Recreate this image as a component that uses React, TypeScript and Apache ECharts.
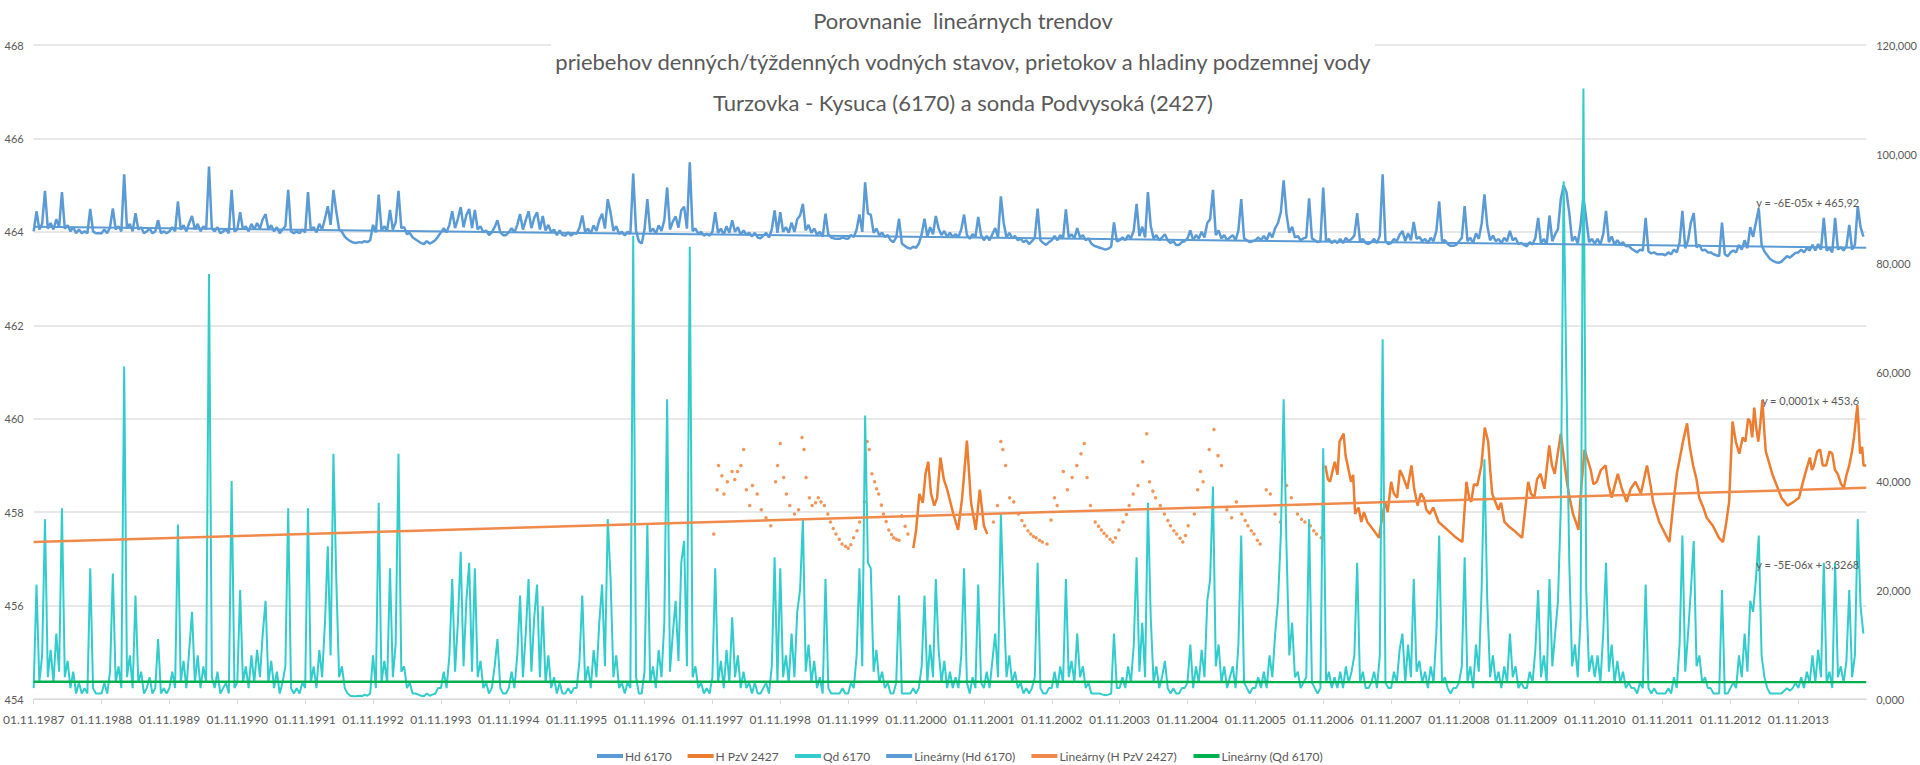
import React, { useEffect, useRef } from 'react';
import * as echarts from 'echarts';

// x = years elapsed since 01.11.1987; hd/qd sampled every half month (1/24 year)
const SLOTS_PER_YEAR = 24;

const xYearLabels = [1987, 1988, 1989, 1990, 1991, 1992, 1993, 1994, 1995, 1996, 1997, 1998, 1999, 2000,
  2001, 2002, 2003, 2004, 2005, 2006, 2007, 2008, 2009, 2010, 2011, 2012, 2013];

// Hd 6170 (m n.m.) – one row per hydrological year
const hdValues = [
  464.01,464.44,464.05,464.17,464.88,464.07,464.19,464.05,464.27,464.1,464.85,464.07,464.14,464.01,464.1,463.97,464.05,463.97,464.01,463.97,464.49,464.01,463.97,463.97,
  463.97,464.05,463.97,464.1,464.5,464.05,464.12,464.01,465.23,464.07,464.17,464.01,464.4,464.05,464.1,463.97,464.01,464.07,463.97,464.01,464.25,463.97,464.01,463.97,
  464.01,464.1,464.01,464.65,464.05,464.14,464.01,464.19,464.34,464.05,464.17,464.01,464.12,464.05,465.4,464.07,464.01,464.1,463.97,464.01,464.05,463.97,464.9,464.01,
  464.05,464.42,464.05,464.12,464.01,464.17,464.05,464.19,464.07,464.27,464.38,464.05,464.14,464.01,464.1,463.97,464.05,464.12,464.9,464.01,463.97,464.01,463.97,464.05,
  463.99,464.85,464.03,464.1,463.99,464.17,464.05,464.28,464.55,464.15,464.9,464.44,464.05,464.0,463.9,463.84,463.8,463.77,463.76,463.78,463.77,463.8,463.78,463.82,
  464.15,463.99,464.8,464.03,464.12,464.03,464.47,464.05,464.2,464.88,464.08,464.1,463.95,463.98,463.88,463.84,463.8,463.76,463.74,463.8,463.75,463.78,463.82,463.9,
  463.99,464.08,463.99,464.15,464.44,464.08,464.28,464.53,464.1,464.36,464.49,464.08,464.47,464.05,464.12,463.99,464.03,463.93,463.99,464.1,464.25,463.99,463.93,463.93,
  463.99,464.08,463.99,464.15,464.38,464.05,464.25,464.44,464.08,464.3,464.42,464.05,464.34,464.03,464.15,463.99,464.05,463.93,464.03,463.93,463.92,463.99,463.92,463.97,
  463.96,464.09,464.35,464.0,464.07,463.96,464.14,464.02,464.25,464.39,464.07,464.7,464.41,464.02,464.12,463.96,464.0,463.92,464.0,463.96,465.25,464.02,463.8,463.75,
  464.05,464.7,464.0,464.07,463.96,464.14,464.02,464.25,464.95,464.05,464.22,464.33,464.09,464.46,464.54,464.07,465.49,464.02,464.07,463.96,464.0,463.92,463.96,463.92,
  464.0,464.42,463.98,464.07,463.94,464.12,463.98,464.25,464.0,464.1,463.94,464.03,463.94,463.98,463.9,463.98,463.88,463.86,463.92,463.98,463.88,464.05,464.46,463.98,
  464.42,464.0,464.1,463.98,464.2,464.0,464.27,464.35,464.6,464.03,464.15,463.98,464.07,463.94,464.0,463.9,464.39,463.94,463.88,463.86,463.85,463.85,463.88,463.86,
  463.85,463.93,463.89,464.05,464.37,464.0,465.06,464.39,464.37,463.98,464.07,463.93,463.98,463.89,463.93,463.82,463.78,463.88,464.28,463.75,463.7,463.66,463.64,463.68,
  463.66,463.75,463.95,464.28,463.9,464.1,463.95,464.34,464.07,463.93,464.02,463.89,463.98,463.89,463.95,463.89,464.05,464.37,463.93,463.85,463.95,463.89,464.32,463.93,
  463.82,463.91,463.82,463.95,464.08,463.88,464.76,464.19,463.88,463.98,463.86,463.91,463.82,463.86,463.78,463.82,463.74,463.8,463.88,464.5,463.82,463.76,463.72,463.78,
  463.82,463.91,463.82,463.93,463.86,464.48,463.88,463.95,463.86,464.08,463.88,463.93,463.82,463.86,463.75,463.7,463.68,463.66,463.64,463.62,463.64,463.68,464.2,463.8,
  463.82,463.88,463.82,463.93,463.86,464.03,464.6,463.91,464.11,463.88,464.85,464.13,463.86,463.93,463.82,463.88,463.95,463.82,463.76,463.8,463.72,463.72,463.78,463.8,
  463.86,464.03,463.82,463.93,463.86,464.0,463.88,464.19,464.27,464.9,463.93,464.03,463.86,463.93,463.82,463.88,463.93,463.82,464.03,464.7,463.86,463.82,463.78,463.8,
  463.82,463.88,463.82,463.91,463.82,463.98,463.88,464.08,464.19,464.42,465.1,464.38,463.98,464.11,463.88,463.91,463.82,463.86,463.88,464.72,463.86,463.82,463.78,463.8,
  464.95,463.8,463.85,463.76,463.82,463.76,463.85,463.76,463.87,463.8,463.85,463.92,464.4,463.8,463.85,463.76,463.74,463.78,463.85,463.76,463.92,465.23,463.8,463.74,
  463.76,463.85,463.8,463.94,464.02,463.8,463.97,463.82,464.21,463.85,463.89,463.8,463.85,463.76,463.87,463.8,464.02,464.65,463.8,463.82,463.74,463.7,463.7,463.72,
  463.8,463.87,464.55,463.8,463.87,463.76,463.97,463.85,464.17,464.8,464.13,463.82,463.92,463.8,463.85,463.76,463.87,463.8,464.02,463.82,463.87,463.74,463.76,463.72,
  463.69,463.78,463.73,463.87,464.3,463.75,463.85,463.73,464.35,463.8,463.95,464.06,464.7,465.0,464.85,464.4,463.8,463.9,463.75,464.15,464.75,464.28,463.78,463.85,
  463.75,463.85,463.73,463.95,464.45,463.78,463.9,463.73,463.82,463.73,463.78,463.69,463.7,463.64,463.6,463.56,463.62,463.6,464.3,463.58,463.54,463.56,463.52,463.52,
  463.52,463.5,463.56,463.52,463.62,463.56,463.77,464.45,463.65,463.82,464.2,464.4,463.67,463.72,463.6,463.62,463.56,463.56,463.52,463.5,463.48,464.2,463.52,463.48,
  463.56,463.6,463.56,463.72,463.62,463.82,463.65,464.1,463.89,464.2,464.5,463.72,463.58,463.5,463.42,463.38,463.35,463.34,463.36,463.42,463.48,463.45,463.5,463.55,
  463.56,463.62,463.56,463.65,463.6,463.72,463.6,463.74,463.62,464.3,463.6,463.65,463.56,464.3,463.62,463.67,463.6,463.69,464.15,463.62,463.72,464.55,464.1,463.9,
];

// Qd 6170 (m3/s) – one row per hydrological year
const qdValues = [
  2,21,3,8,33,4,9,3,12,5,35,4,7,2,5,1,3,1,2,1,24,2,1,1,
  1,3,1,5,23,3,6,2,61,4,8,2,19,3,5,1,2,4,1,2,11,1,2,1,
  2,5,2,32,3,7,2,9,16,3,8,2,6,3,78,4,2,5,1,2,3,1,40,2,
  3,20,3,6,2,8,3,9,4,12,18,3,7,2,5,1,3,6,35,2,1,2,1,3,
  2,35,3,6,2,9,4,14,28,8,45,22,4,6,2,1,0.6,0.5,0.5,0.6,0.5,0.8,0.6,1,
  8,2,36,3,7,3,24,4,10,45,5,6,2,3,1,1,0.8,0.6,0.5,1,0.6,0.8,1,2,
  2,5,2,8,22,5,14,27,6,18,25,5,24,4,7,2,3,1,2,6,11,2,1,1,
  2,5,2,8,19,4,12,22,5,15,21,4,17,3,8,2,4,1,3,1,1,2,1,2,
  2,7,19,3,6,2,9,4,14,21,6,33,22,4,8,2,3,1,3,2,85,4,1,1,
  5,32,3,6,2,9,4,14,55,5,12,18,7,25,29,6,83,4,6,2,3,1,2,1,
  4,24,3,7,2,9,3,15,4,8,2,5,2,3,1,3,1,1,2,3,1,6,26,3,
  24,4,8,3,12,4,16,20,33,5,10,3,7,2,4,1,22,2,1,1,1,1,2,1,
  1,3,2,8,24,6,52,25,24,5,9,3,5,2,3,1,1,3,19,1,1,1,1,2,
  1,2,6,19,3,10,4,22,9,3,7,2,5,2,4,2,8,24,3,1,4,2,21,3,
  2,5,2,7,12,4,34,18,4,8,3,5,2,3,1,2,1,2,4,25,2,1,1,2,
  2,5,2,6,3,22,4,7,3,12,4,6,2,3,1,1,1,1,0.8,0.7,0.8,1,12,2,
  2,4,2,6,3,10,26,5,14,4,36,15,3,6,2,4,7,2,1,2,1,1,2,2,
  3,10,2,6,3,9,4,18,22,39,6,10,3,6,2,4,6,2,10,30,3,2,1,2,
  2,4,2,5,2,8,4,12,18,30,55,28,8,14,4,5,2,3,4,33,3,2,1,2,
  46,3,5,2,4,2,5,2,6,3,5,8,25,3,5,2,2,3,5,2,8,66,3,2,
  2,5,3,9,12,3,10,4,22,5,7,3,5,2,6,3,12,30,3,4,2,1,2,2,
  3,6,26,3,6,2,10,5,20,44,18,4,8,3,5,2,6,3,12,4,6,2,3,2,
  2,5,3,9,20,4,8,3,22,6,12,18,35,95,58,25,6,10,4,15,112,20,5,8,
  4,8,3,12,25,5,10,3,7,3,5,2,3,2,2,1,3,2,21,2,1,2,1,1,
  1,1,2,1,4,2,10,30,5,12,20,29,6,8,3,4,2,2,1,1,1,20,1,1,
  2,3,2,8,4,12,5,18,16,22,30,8,4,2,1,1,1,1,1,1.5,2,1.5,2,3,
  2,4,2,5,3,8,3,9,4,25,3,5,2,25,4,6,3,7,20,4,8,33,17,12,
];

// H PzV 2427 – weekly readings shown as dots
const pzvDots: [number, number][] = [
  [10.02,457.53],[10.07,458.48],[10.09,459.0],[10.14,458.78],[10.17,458.39],[10.22,458.65],[10.29,458.87],[10.33,458.7],[10.37,458.87],[10.42,459.0],[10.46,459.34],[10.5,458.48],[10.55,458.14],[10.59,458.57],[10.66,458.39],[10.72,458.05],[10.79,457.88],[10.86,457.71],[10.93,458.65],[10.96,459.0],
  [11.0,459.47],[11.05,458.74],[11.09,458.39],[11.14,458.14],[11.21,457.96],[11.27,458.05],[11.32,459.6],[11.35,459.34],[11.38,458.74],[11.43,458.31],[11.47,458.14],[11.52,458.2],[11.56,458.31],[11.6,458.22],[11.65,458.14],[11.7,457.96],[11.74,457.79],[11.78,457.65],[11.82,457.53],[11.87,457.42],[11.91,457.32],[11.96,457.27],
  [12.0,457.23],[12.04,457.3],[12.08,457.45],[12.13,457.6],[12.17,457.79],[12.24,458.22],[12.28,459.51],[12.31,459.34],[12.35,458.82],[12.39,458.65],[12.42,458.5],[12.45,458.39],[12.49,458.15],[12.52,457.96],[12.56,457.8],[12.6,457.62],[12.64,457.52],[12.67,457.45],[12.71,457.42],[12.75,457.4],[12.79,457.92],[12.84,457.7],[12.88,457.53],
  [14.14,457.79],[14.2,458.14],[14.25,459.51],[14.28,459.34],[14.32,459.0],[14.38,458.31],[14.44,458.22],[14.51,457.96],[14.56,457.82],[14.6,457.71],[14.65,457.6],[14.69,457.53],[14.73,457.48],[14.77,457.45],[14.82,457.4],[14.86,457.36],[14.93,457.32],[14.99,457.83],
  [15.04,458.31],[15.08,458.14],[15.17,458.87],[15.23,458.48],[15.3,458.74],[15.37,459.0],[15.43,459.25],[15.48,459.47],[15.52,458.74],[15.57,458.14],[15.64,457.79],[15.69,457.7],[15.73,457.62],[15.77,457.55],[15.81,457.49],[15.86,457.42],[15.9,457.36],[15.94,457.45],[15.99,457.62],
  [16.05,457.79],[16.1,457.95],[16.14,458.14],[16.2,458.39],[16.27,458.57],[16.34,459.08],[16.4,459.68],[16.44,458.65],[16.49,458.45],[16.53,458.31],[16.6,458.14],[16.66,457.96],[16.71,457.82],[16.75,457.71],[16.8,457.6],[16.84,457.53],[16.89,457.44],[16.93,457.36],[16.97,457.5],
  [17.01,457.71],[17.1,457.96],[17.15,458.48],[17.19,458.87],[17.23,458.65],[17.32,459.34],[17.39,459.77],[17.45,459.21],[17.5,459.0],[17.58,458.05],[17.65,457.88],[17.72,458.22],[17.8,457.96],[17.85,457.82],[17.89,457.71],[17.94,457.6],[17.98,457.53],[18.03,457.4],[18.07,457.32],
  [18.16,458.48],[18.22,458.39],[18.29,457.96],[18.37,457.79],[18.46,458.57],[18.53,458.31],[18.62,457.96],[18.68,457.85],[18.73,457.79],[18.81,457.71],[18.86,457.6],[18.9,457.53],[18.97,457.45],
];

// H PzV 2427 – continuous records (line)
const pzvLineA: [number, number][] = [
  [12.96,457.23],[13.0,457.6],[13.05,458.39],[13.1,458.2],[13.14,458.82],[13.18,459.08],[13.22,458.4],[13.27,458.14],[13.31,458.3],[13.36,459.17],[13.41,458.7],[13.46,458.48],[13.55,457.96],[13.62,457.62],[13.68,458.31],[13.75,459.53],[13.81,458.22],[13.88,457.62],[13.94,458.48],[14.0,457.71],[14.05,457.53],
];
const pzvLineB: [number, number][] = [
  [19.03,459.0],[19.07,458.7],[19.1,458.65],[19.14,458.9],[19.17,459.08],[19.21,458.8],[19.24,459.51],[19.3,459.68],[19.33,459.2],[19.36,459.0],[19.41,458.65],[19.44,458.8],[19.47,457.96],[19.52,458.1],[19.56,457.79],[19.6,458.0],[19.65,457.79],[19.74,457.62],[19.82,457.45],[19.87,457.9],[19.91,458.22],[19.95,458.0],
  [20.0,458.65],[20.04,458.4],[20.09,458.31],[20.13,458.9],[20.18,458.74],[20.24,458.5],[20.3,459.0],[20.34,458.5],[20.39,458.14],[20.44,458.4],[20.48,458.31],[20.52,458.05],[20.57,457.96],[20.62,458.1],[20.7,457.79],[20.83,457.62],[20.96,457.45],
  [21.05,457.36],[21.11,458.65],[21.15,458.3],[21.18,458.22],[21.22,458.6],[21.27,458.57],[21.33,459.0],[21.38,459.81],[21.43,459.51],[21.46,458.9],[21.49,458.39],[21.54,458.2],[21.58,458.05],[21.62,458.2],[21.67,457.79],[21.73,457.7],[21.8,457.62],[21.93,457.45],
  [22.02,458.65],[22.06,458.4],[22.11,458.31],[22.15,458.7],[22.2,458.82],[22.26,458.5],[22.33,459.43],[22.37,459.0],[22.41,458.82],[22.45,459.2],[22.5,459.68],[22.55,459.1],[22.59,458.65],[22.63,458.3],[22.68,457.96],[22.72,457.8],[22.76,457.62],[22.8,458.5],[22.85,459.34],[22.9,459.1],[22.94,458.91],[22.98,458.6],
  [23.03,458.65],[23.09,458.9],[23.16,459.0],[23.2,458.6],[23.25,458.31],[23.3,458.6],[23.34,458.82],[23.4,458.5],[23.47,458.22],[23.53,458.5],[23.6,458.65],[23.68,458.4],[23.77,459.0],[23.82,458.6],[23.86,458.22],[23.95,457.79],
  [24.04,457.53],[24.1,457.36],[24.16,458.2],[24.21,458.82],[24.26,459.2],[24.3,459.51],[24.36,459.9],[24.4,459.4],[24.45,459.0],[24.5,458.7],[24.54,458.31],[24.6,458.1],[24.65,457.88],[24.74,457.71],[24.83,457.45],[24.89,457.36],[24.94,457.8],[24.98,458.22],
  [25.03,459.94],[25.08,459.5],[25.13,459.25],[25.18,459.6],[25.22,459.51],[25.26,460.0],[25.29,459.94],[25.32,459.6],[25.35,460.24],[25.38,459.8],[25.41,459.51],[25.44,459.9],[25.47,460.4],[25.5,459.7],[25.52,459.3],[25.58,459.0],[25.62,458.8],[25.66,458.65],[25.75,458.31],[25.84,458.14],[25.93,458.22],
  [26.01,458.31],[26.06,458.6],[26.1,458.82],[26.17,459.17],[26.2,458.9],[26.23,459.0],[26.28,459.3],[26.32,459.34],[26.36,459.0],[26.41,459.0],[26.46,459.3],[26.5,459.25],[26.54,458.9],[26.58,458.82],[26.63,458.6],[26.67,458.52],[26.71,458.8],[26.75,459.0],[26.79,459.3],[26.82,459.6],[26.87,460.29],[26.89,459.8],[26.91,459.25],[26.94,459.4],[26.96,459.0],[27.0,459.0],
];

// Linear trends (value at start and end of the x range)
const trendX = [0, 27];
const hdTrend = [464.11, 463.66];
const pzvTrend = [457.36, 458.52];
const qdTrend = [3.17, 3.12];
const trendLabels = ['y = -6E-05x + 465,92', 'y = 0,0001x + 453,6', 'y = -5E-06x + 3,3268'];

const titleLines = [
  'Porovnanie  lineárnych trendov',
  'priebehov denných/týždenných vodných stavov, prietokov a hladiny podzemnej vody',
  'Turzovka - Kysuca (6170) a sonda Podvysoká (2427)',
];

const FONT = "Lato, 'Liberation Sans', sans-serif";
const GREY = '#595959';
const C_BLUE = '#5B9BD5';
const C_ORANGE = '#ED7D31';
const C_TEAL = '#33CCCC';
const C_GREEN = '#00B050';

function trendSeries(name: string, values: number[], color: string, yAxisIndex: number, label: string, dy: number, width: number) {
  return {
    name,
    type: 'line',
    yAxisIndex,
    showSymbol: false,
    symbol: 'none',
    data: trendX.map((x, i) => [x, values[i]]),
    lineStyle: { color, width },
    itemStyle: { color },
    z: 5,
    markPoint: {
      symbol: 'circle',
      symbolSize: 0,
      silent: true,
      data: [{
        coord: [trendX[1], values[1]],
        label: {
          show: true,
          formatter: label,
          position: 'left',
          distance: 7,
          offset: [0, -dy],
          color: GREY,
          fontSize: 11,
          fontFamily: FONT,
        },
      }],
    },
  };
}

export default function App() {
  const ref = useRef<HTMLDivElement>(null);
  useEffect(() => {
    if (!ref.current) return;
    const chart = echarts.init(ref.current, null, { renderer: 'svg' });
    const hdData = hdValues.map((v, i) => [i / SLOTS_PER_YEAR, v]);
    const qdData = qdValues.map((v, i) => [i / SLOTS_PER_YEAR, v]);
    const option = {
      animation: false,
      backgroundColor: '#ffffff',
      textStyle: { fontFamily: FONT },
      title: {
        text: titleLines.join('\n'),
        left: 960,
        top: 0,
        textAlign: 'center',
        padding: [0, 3],
        backgroundColor: '#ffffff',
        textStyle: { fontFamily: FONT, fontSize: 22, fontWeight: 'normal', color: GREY, lineHeight: 41 },
      },
      legend: {
        top: 745,
        left: 'center',
        icon: 'rect',
        itemWidth: 26,
        itemHeight: 4,
        itemGap: 16,
        textStyle: { fontFamily: FONT, fontSize: 12, color: GREY, padding: [0, 0, 0, -3] },
        data: ['Hd 6170', 'H PzV 2427', 'Qd 6170', 'Lineárny (Hd 6170)', 'Lineárny (H PzV 2427)', 'Lineárny (Qd 6170)'],
      },
      grid: { left: 28, right: 50, top: 45, bottom: 66, containLabel: false },
      xAxis: {
        type: 'value',
        min: 0,
        max: 27,
        interval: 1,
        axisLine: { show: true, lineStyle: { color: '#D9D9D9', width: 1 } },
        axisTick: { show: true, length: 5, lineStyle: { color: '#D9D9D9' } },
        splitLine: { show: false },
        axisLabel: {
          color: GREY,
          fontSize: 12,
          fontFamily: FONT,
          margin: 14,
          showMaxLabel: false,
          formatter: (v: number) => (v < xYearLabels.length ? `01.11.${xYearLabels[v]}` : ''),
        },
      },
      yAxis: [
        {
          type: 'value',
          min: 454,
          max: 468,
          interval: 2,
          axisLine: { show: false },
          axisTick: { show: false },
          splitLine: { show: true, lineStyle: { color: '#E8E8E8', width: 2 } },
          axisLabel: { color: GREY, fontSize: 11, fontFamily: FONT, margin: 10 },
        },
        {
          type: 'value',
          min: 0,
          max: 120,
          interval: 20,
          axisLine: { show: false },
          axisTick: { show: false },
          splitLine: { show: false },
          axisLabel: {
            color: GREY,
            fontSize: 11,
            fontFamily: FONT,
            margin: 10,
            formatter: (v: number) => v.toFixed(3).replace('.', ','),
          },
        },
      ],
      series: [
        {
          name: 'Hd 6170', type: 'line', yAxisIndex: 0, showSymbol: false, data: hdData,
          lineStyle: { color: C_BLUE, width: 2.5 }, itemStyle: { color: C_BLUE }, z: 2,
        },
        {
          name: 'H PzV 2427', type: 'line', yAxisIndex: 0, showSymbol: false, data: pzvLineA,
          lineStyle: { color: C_ORANGE, width: 2.5 }, itemStyle: { color: C_ORANGE }, z: 2,
        },
        {
          name: 'H PzV 2427', type: 'line', yAxisIndex: 0, showSymbol: false, data: pzvLineB,
          lineStyle: { color: C_ORANGE, width: 2.5 }, itemStyle: { color: C_ORANGE }, z: 2,
        },
        {
          name: 'H PzV 2427', type: 'scatter', yAxisIndex: 0, symbol: 'circle', symbolSize: 3.5, data: pzvDots,
          itemStyle: { color: C_ORANGE }, z: 2,
        },
        {
          name: 'Qd 6170', type: 'line', yAxisIndex: 1, showSymbol: false, data: qdData,
          lineStyle: { color: C_TEAL, width: 2 }, itemStyle: { color: C_TEAL }, z: 3,
        },
        trendSeries('Lineárny (Hd 6170)', hdTrend, C_BLUE, 0, trendLabels[0], 45, 2),
        trendSeries('Lineárny (H PzV 2427)', pzvTrend, '#F08A4B', 0, trendLabels[1], 87, 2.5),
        trendSeries('Lineárny (Qd 6170)', qdTrend, C_GREEN, 1, trendLabels[2], 117, 2.5),
      ],
    };
    chart.setOption(option as any);
    return () => chart.dispose();
  }, []);
  return <div ref={ref} style={{ position: 'absolute', left: 0, top: 0, width: 1920, height: 765 }} />;
}
